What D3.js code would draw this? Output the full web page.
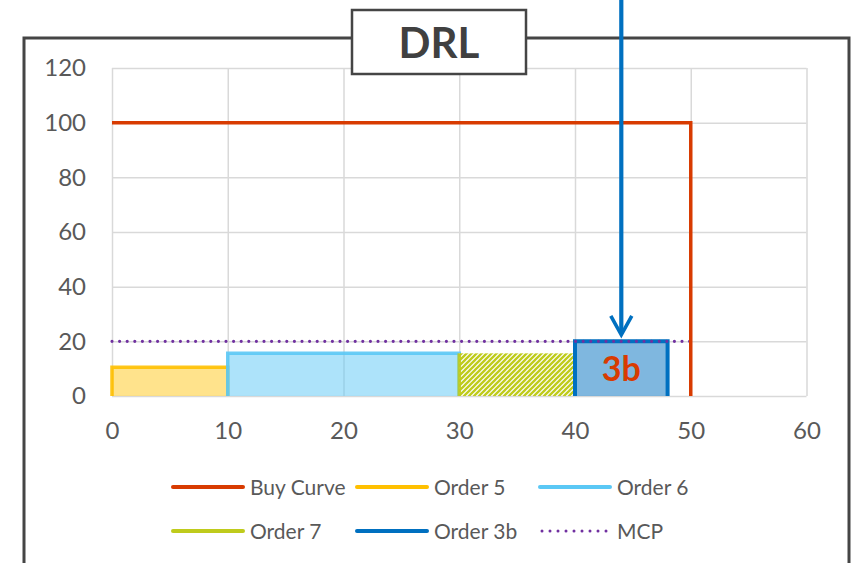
<!DOCTYPE html>
<html>
<head>
<meta charset="utf-8">
<script src="https://cdn.jsdelivr.net/npm/d3@7"></script>
<style>
  body { margin: 0; background: #fff; }
  svg { display: block; font-family: Lato, "Open Sans", sans-serif; }
</style>
</head>
<body>
<svg id="chart" width="851" height="563"></svg>
<script>
// step curves
var buyX = [0, 50, 50];
var buyY = [100, 100, 0];

var orderNames = ["Order 5", "Order 6", "Order 7", "Order 3b"];
var orderStart = [0, 10, 30, 40];
var orderEnd = [10, 30, 40, 48];
var orderPrice = [10.5, 15.6, 15.6, 20];

var mcpPrice = 20;
var mcpEnd = 50;
var arrowX = 44;
var arrowTip = 22.4;

var xTicks = [0, 10, 20, 30, 40, 50, 60];
var yTicks = [0, 20, 40, 60, 80, 100, 120];

var legendNames = ["Buy Curve", "Order 5", "Order 6", "Order 7", "Order 3b", "MCP"];

var colors = {
    buy: "#d83b01",
    "Order 5": "#ffc000",
    "Order 6": "#5bc8f5",
    "Order 7": "#bfcb1c",
    "Order 3b": "#0070c0",
    mcp: "#7030a0"
};

var svg = d3.select("#chart");

var chartX = d3.scaleLinear().domain([0, 60]).range([112, 806.5]);
var chartY = d3.scaleLinear().domain([0, 120]).range([396, 68]);

/* hatch for order 7 */
var defs = svg.append("defs");
var hatch = defs.append("pattern")
    .attr("id", "hatch")
    .attr("patternUnits", "userSpaceOnUse")
    .attr("width", 5)
    .attr("height", 5);
hatch.append("rect").attr("width", 5).attr("height", 5).attr("fill", "#fff");
hatch.append("path")
    .attr("d", "M-1,6L6,-1M-3,3L3,-3M2,8L8,2")
    .attr("stroke", colors["Order 7"])
    .attr("stroke-width", 2.3);

/* outer frame */
svg.append("rect")
    .attr("x", 24).attr("y", 38)
    .attr("width", 825).attr("height", 560)
    .attr("fill", "none")
    .attr("stroke", "#454545")
    .attr("stroke-width", 3);

/* grid */
svg.append("g")
    .attr("class", "x grid")
    .attr("transform", "translate(0," + chartY(0) + ")")
    .call(d3.axisBottom(chartX).tickValues(xTicks).tickSize(-(chartY(0) - chartY(120))).tickFormat(""))
    .call(function (g) { g.select(".domain").remove(); })
    .selectAll("line").attr("stroke", "#d9d9d9").attr("stroke-width", 1.5);

svg.append("g")
    .attr("class", "y grid")
    .attr("transform", "translate(" + chartX(0) + ",0)")
    .call(d3.axisLeft(chartY).tickValues(yTicks).tickSize(-(chartX(60) - chartX(0))).tickFormat(""))
    .call(function (g) { g.select(".domain").remove(); })
    .selectAll("line").attr("stroke", "#d9d9d9").attr("stroke-width", 1.5);

/* tick labels */
var xAxis = svg.append("g")
    .attr("class", "x axis")
    .attr("transform", "translate(0," + chartY(0) + ")")
    .call(d3.axisBottom(chartX).tickValues(xTicks).tickSize(0).tickPadding(26));
xAxis.select(".domain").remove();
xAxis.selectAll("text").attr("font-size", 24).attr("fill", "#595959").attr("font-family", "Lato");

var yAxis = svg.append("g")
    .attr("class", "y axis")
    .attr("transform", "translate(" + chartX(0) + ",0)")
    .call(d3.axisLeft(chartY).tickValues(yTicks).tickSize(0).tickPadding(26));
yAxis.select(".domain").remove();
yAxis.selectAll("text").attr("font-size", 24).attr("fill", "#595959").attr("font-family", "Lato");

/* orders */
var orders = orderNames.map(function (name, i) {
    return { name: name, x0: orderStart[i], x1: orderEnd[i], p: orderPrice[i] };
});

var stepLine = d3.line()
    .x(function (d) { return chartX(d[0]); })
    .y(function (d) { return chartY(d[1]); });

orders.forEach(function (o) {
    var g = svg.append("g").attr("class", "order");
    var fill = o.name === "Order 7" ? "url(#hatch)" : colors[o.name];
    g.append("rect")
        .attr("x", chartX(o.x0))
        .attr("y", chartY(o.p))
        .attr("width", chartX(o.x1) - chartX(o.x0))
        .attr("height", chartY(0) - chartY(o.p))
        .attr("fill", fill)
        .attr("fill-opacity", o.name === "Order 7" ? 1 : (o.name === "Order 5" ? 0.45 : 0.5));
    var pts = o.name === "Order 7"
        ? [[o.x0, 0], [o.x0, o.p]]
        : [[o.x0, 0], [o.x0, o.p], [o.x1, o.p], [o.x1, 0]];
    g.append("path")
        .attr("d", stepLine(pts))
        .attr("fill", "none")
        .attr("stroke", colors[o.name])
        .attr("stroke-width", o.name === "Order 3b" ? 4 : 3.5)
        .attr("stroke-opacity", o.name === "Order 3b" ? 1 : 0.9);
});

/* MCP */
svg.append("path")
    .attr("d", stepLine([[0, mcpPrice], [mcpEnd, mcpPrice]]))
    .attr("fill", "none")
    .attr("stroke", colors.mcp)
    .attr("stroke-width", 3.2)
    .attr("stroke-linecap", "round")
    .attr("stroke-dasharray", "0 7.6");

/* buy curve */
svg.append("path")
    .attr("d", stepLine(buyX.map(function (x, i) { return [x, buyY[i]]; })))
    .attr("fill", "none")
    .attr("stroke", colors.buy)
    .attr("stroke-width", 3.5);

/* 3b label */
var o3 = orders[3];
svg.append("text")
    .attr("x", chartX((o3.x0 + o3.x1) / 2))
    .attr("y", chartY(o3.p / 2) + 12)
    .attr("text-anchor", "middle")
    .attr("font-size", 34)
    .attr("font-weight", "bold")
    .attr("fill", colors.buy)
    .text("3b");

/* arrow from above */
svg.append("line")
    .attr("x1", chartX(arrowX)).attr("x2", chartX(arrowX))
    .attr("y1", 0).attr("y2", chartY(arrowTip) - 1)
    .attr("stroke", colors["Order 3b"])
    .attr("stroke-width", 4.2);
svg.append("path")
    .attr("d", "M" + (chartX(arrowX) - 10.5) + "," + (chartY(arrowTip) - 19) +
               "L" + chartX(arrowX) + "," + chartY(arrowTip) +
               "L" + (chartX(arrowX) + 10.5) + "," + (chartY(arrowTip) - 19))
    .attr("fill", "none")
    .attr("stroke", colors["Order 3b"])
    .attr("stroke-width", 3.6);

/* title box */
svg.append("rect")
    .attr("x", 352).attr("y", 10)
    .attr("width", 174).attr("height", 64)
    .attr("fill", "#fff")
    .attr("stroke", "#454545")
    .attr("stroke-width", 2.5);
svg.append("text")
    .attr("x", 439).attr("y", 58)
    .attr("text-anchor", "middle")
    .attr("font-size", 42)
    .attr("font-weight", "bold")
    .attr("fill", "#404040")
    .text("DRL");

/* legend */
var legendCols = [173, 357, 540];
var legendRows = [487, 531];
var legend = svg.append("g").attr("class", "legend");
legendNames.forEach(function (name, i) {
    var lx = legendCols[i % 3];
    var ly = legendRows[Math.floor(i / 3)];
    var isMcp = name === "MCP";
    var c = name === "Buy Curve" ? colors.buy : (isMcp ? colors.mcp : colors[name]);
    legend.append("line")
        .attr("x1", lx + (isMcp ? 2 : 0)).attr("x2", lx + 70)
        .attr("y1", ly).attr("y2", ly)
        .attr("stroke", c)
        .attr("stroke-width", isMcp ? 3 : 4)
        .attr("stroke-linecap", "round")
        .attr("stroke-dasharray", isMcp ? "0 8" : null);
    legend.append("text")
        .attr("x", lx + 77).attr("y", ly + 8)
        .attr("font-size", 21)
        .attr("fill", "#595959")
        .text(name);
});
</script>
</body>
</html>
